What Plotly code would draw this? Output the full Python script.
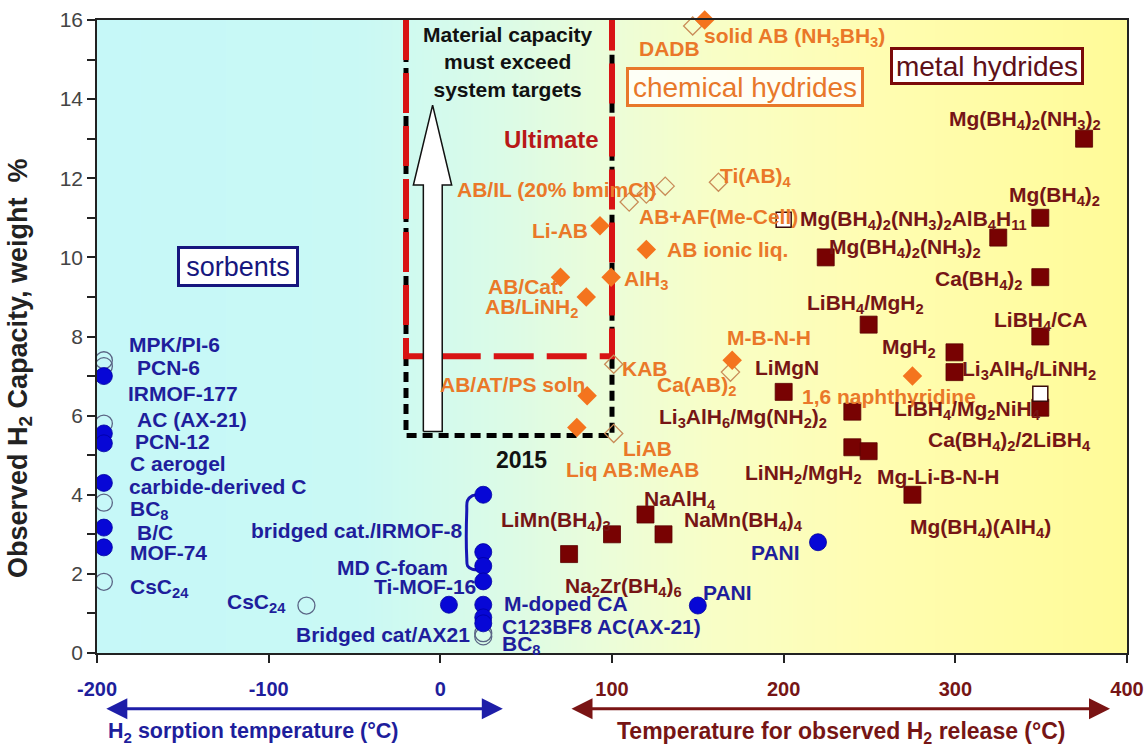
import numpy as np
import plotly.graph_objects as go

FONT = "Liberation Sans"

BLUE_MK = "#0707D6"
BLUE_TX = "#1E1E9C"
ORANGE_MK = "#F4741E"
ORANGE_TX = "#EA7829"
OPEN_CH = "#C98C58"
MAROON_MK = "#780202"
MAROON_TX = "#761515"

# ---------------- sorbents: sorption temperature (°C) vs capacity (wt %) ----------------
sorb_t = [-196, -196, -196, -196, -196, -196, 25, 25, 25, 25, 25, 25, 25, 5, 150, 220]
sorb_wt = [7.0, 5.55, 5.3, 4.3, 3.17, 2.67, 4.0, 2.55, 2.2, 1.81, 1.22, 0.9, 0.75, 1.22, 1.2, 2.8]
sorb_open_t = [-196, -196, -196, -196, -196, -78, 25, 25]
sorb_open_wt = [7.4, 7.25, 5.8, 3.8, 1.8, 1.2, 0.5, 0.42]

# ---------------- chemical hydrides: release temperature vs capacity ----------------
chem_t = [154, 93, 120, 99.5, 70, 85, 85.5, 79.5, 170, 275]
chem_wt = [16.0, 10.8, 10.2, 9.5, 9.5, 9.0, 6.5, 5.7, 7.4, 7.0]
chem_open_t = [147, 110, 120, 131, 162, 101, 169, 101]
chem_open_wt = [15.85, 11.4, 11.6, 11.8, 11.9, 7.3, 7.1, 5.55]

# ---------------- metal hydrides: release temperature vs capacity ----------------
metal_t = [375, 349.5, 325, 224.5, 349.5, 249.5, 349.5, 299.5, 299.5, 349.5,
           200, 240, 240, 249.5, 275, 119.5, 100, 130, 75]
metal_wt = [13.0, 11.0, 10.5, 10.0, 9.5, 8.3, 8.0, 7.6, 7.1, 6.2,
            6.6, 6.1, 5.2, 5.1, 4.0, 3.5, 3.0, 3.0, 2.5]
metal_open_t = [200, 349.5]
metal_open_wt = [10.95, 6.55]

# DOE targets (wt %) and the temperature window they apply to
target_2015 = 5.5
target_ultimate = 7.5
target_t_window = [-20, 100]

# Tick labels
x_ticks = [-200, -100, 0, 100, 200, 300, 400]
y_ticks = [0, 2, 4, 6, 8, 10, 12, 14, 16]

# Text labels: (text, x, y, anchor side)
sorb_labels = [
    ("MPK/PI-6", -182.5, 7.81, "left"),
    ("PCN-6", -177.9, 7.21, "left"),
    ("IRMOF-177", -183.3, 6.55, "left"),
    ("AC (AX-21)", -177.9, 5.89, "left"),
    ("PCN-12", -179.0, 5.35, "left"),
    ("C aerogel", -181.9, 4.78, "left"),
    ("carbide-derived C", -182.7, 4.21, "left"),
    ("BC<sub>8</sub>", -181.9, 3.62, "left"),
    ("B/C", -177.9, 3.05, "left"),
    ("MOF-74", -182.1, 2.54, "left"),
    ("CsC<sub>24</sub>", -182.1, 1.64, "left"),
    ("CsC<sub>24</sub>", -88.6, 1.26, "right"),
    ("bridged cat./IRMOF-8", 14.4, 3.09, "right"),
    ("MD C-foam", 5.6, 2.16, "right"),
    ("Ti-MOF-16", 21.9, 1.68, "right"),
    ("Bridged cat/AX21", 18.3, 0.46, "right"),
    ("M-doped CA", 35.7, 1.24, "left"),
    ("C123BF8 AC(AX-21)", 34.8, 0.67, "left"),
    ("BC<sub>8</sub>", 34.8, 0.21, "left"),
    ("PANI", 151.8, 1.52, "left"),
    ("PANI", 210.5, 2.53, "right"),
]

chem_labels = [
    ("DADB", 114.4, 15.29, "left"),
    ("solid AB (NH<sub>3</sub>BH<sub>3</sub>)", 152.3, 15.58, "left"),
    ("AB/IL (20% bmimCl)", 8.5, 11.71, "left"),
    ("Ti(AB)<sub>4</sub>", 161.9, 12.04, "left"),
    ("AB+AF(Me-Cell)", 114.4, 11.03, "left"),
    ("Li-AB", 87.2, 10.69, "right"),
    ("AB ionic liq.", 130.9, 10.19, "left"),
    ("AlH<sub>3</sub>", 105.6, 9.43, "left"),
    ("AB/Cat.", 26.6, 9.26, "left"),
    ("AB/LiNH<sub>2</sub>", 25.0, 8.72, "left"),
    ("M-B-N-H", 165.8, 7.98, "left"),
    ("KAB", 104.7, 7.20, "left"),
    ("Ca(AB)<sub>2</sub>", 125.0, 6.74, "left"),
    ("AB/AT/PS soln", -1.2, 6.78, "left"),
    ("1,6 naphthyridine", 209.5, 6.48, "left"),
    ("LiAB", 105.1, 5.18, "left"),
    ("Liq AB:MeAB", 72.2, 4.63, "left"),
]

metal_labels = [
    ("Mg(BH<sub>4</sub>)<sub>2</sub>(NH<sub>3</sub>)<sub>2</sub>", 295.0, 13.48, "left"),
    ("Mg(BH<sub>4</sub>)<sub>2</sub>", 329.9, 11.54, "left"),
    ("Mg(BH<sub>4</sub>)<sub>2</sub>(NH<sub>3</sub>)<sub>2</sub>AlB<sub>4</sub>H<sub>11</sub>", 208.5, 10.95, "left"),
    ("Mg(BH<sub>4</sub>)<sub>2</sub>(NH<sub>3</sub>)<sub>2</sub>", 225.1, 10.23, "left"),
    ("Ca(BH<sub>4</sub>)<sub>2</sub>", 287.2, 9.43, "left"),
    ("LiBH<sub>4</sub>/MgH<sub>2</sub>", 212.4, 8.82, "left"),
    ("LiBH<sub>4</sub>/CA", 321.1, 8.38, "left"),
    ("MgH<sub>2</sub>", 256.1, 7.72, "left"),
    ("LiMgN", 182.3, 7.22, "left"),
    ("Li<sub>3</sub>AlH<sub>6</sub>/LiNH<sub>2</sub>", 302.7, 7.16, "left"),
    ("LiBH<sub>4</sub>/Mg<sub>2</sub>NiH<sub>4</sub>", 262.9, 6.15, "left"),
    ("Li<sub>3</sub>AlH<sub>6</sub>/Mg(NH<sub>2</sub>)<sub>2</sub>", 126.0, 5.94, "left"),
    ("Ca(BH<sub>4</sub>)<sub>2</sub>/2LiBH<sub>4</sub>", 282.7, 5.35, "left"),
    ("LiNH<sub>2</sub>/MgH<sub>2</sub>", 176.3, 4.52, "left"),
    ("Mg-Li-B-N-H", 253.2, 4.46, "left"),
    ("Mg(BH<sub>4</sub>)(AlH<sub>4</sub>)", 272.6, 3.16, "left"),
    ("NaAlH<sub>4</sub>", 117.2, 3.88, "left"),
    ("LiMn(BH<sub>4</sub>)<sub>3</sub>", 34.4, 3.33, "left"),
    ("NaMn(BH<sub>4</sub>)<sub>4</sub>", 140.6, 3.33, "left"),
    ("Na<sub>2</sub>Zr(BH<sub>4</sub>)<sub>6</sub>", 71.3, 1.66, "left"),
]

# Background tint: cyan on the cold side fading to yellow on the hot side
bg_stops = [[0.0, "#C6F8F8"], [0.25, "#C9F9F5"], [0.4, "#DCFBE6"], [0.5, "#ECFDD8"],
            [0.6, "#F8FEC6"], [0.75, "#FFFDB2"], [1.0, "#FFFB98"]]

fig = go.Figure()

bg_x = np.linspace(-200, 400, 121)
fig.add_trace(go.Heatmap(
    x=bg_x, y=[0, 16], z=[bg_x, bg_x], colorscale=bg_stops, zsmooth="best",
    showscale=False, hoverinfo="skip", zmin=-200, zmax=400))

# 2015 target window (black) and ultimate target (red)
tx0, tx1 = target_t_window
fig.add_trace(go.Scatter(
    x=[tx0, tx0, tx1, tx1], y=[16, target_2015, target_2015, 16], mode="lines",
    line=dict(color="black", width=5, dash="10px,6px"), hoverinfo="skip", showlegend=False))
fig.add_trace(go.Scatter(
    x=[tx0, tx0, tx1, tx1], y=[16, target_ultimate, target_ultimate, 16], mode="lines",
    line=dict(color="#D81414", width=6, dash="40px,13px"), hoverinfo="skip", showlegend=False))

# White upward arrow inside the target window
arrow_x = [-9.9, 1.1, 1.1, 6.6, -4.5, -15.7, -9.9, -9.9]
arrow_y = [5.6, 5.6, 11.83, 11.83, 13.85, 11.83, 11.83, 5.6]
fig.add_trace(go.Scatter(
    x=arrow_x, y=arrow_y, mode="lines", fill="toself", fillcolor="white",
    line=dict(color="#111111", width=1.5), hoverinfo="skip", showlegend=False))

# Bracket grouping the room-temperature sorbents
bracket_x = [23, 18.5, 15.8, 15.4, 15.4, 15.9, 18.5, 23]
bracket_y = [4.0, 3.97, 3.85, 3.6, 2.4, 2.2, 2.12, 2.1]
fig.add_trace(go.Scatter(
    x=bracket_x, y=bracket_y, mode="lines", line=dict(color="#1717B4", width=3, shape="spline"),
    hoverinfo="skip", showlegend=False))

# Markers
fig.add_trace(go.Scatter(
    x=sorb_open_t, y=sorb_open_wt, mode="markers", showlegend=False,
    marker=dict(symbol="circle-open", size=17, color="#5A6585", line=dict(width=1.3))))
fig.add_trace(go.Scatter(
    x=sorb_t, y=sorb_wt, mode="markers", showlegend=False,
    marker=dict(symbol="circle", size=17, color=BLUE_MK, line=dict(width=0.8, color="#0000A0"))))
fig.add_trace(go.Scatter(
    x=chem_open_t, y=chem_open_wt, mode="markers", showlegend=False, cliponaxis=False,
    marker=dict(symbol="diamond-open", size=14, color=OPEN_CH, line=dict(width=1.3))))
fig.add_trace(go.Scatter(
    x=chem_t, y=chem_wt, mode="markers", showlegend=False, cliponaxis=False,
    marker=dict(symbol="diamond", size=15, color=ORANGE_MK, line=dict(width=0))))
fig.add_trace(go.Scatter(
    x=metal_t, y=metal_wt, mode="markers", showlegend=False,
    marker=dict(symbol="square", size=17, color=MAROON_MK, line=dict(width=0.8, color="#5A0000"))))
fig.add_trace(go.Scatter(
    x=metal_open_t, y=metal_open_wt, mode="markers", showlegend=False,
    marker=dict(symbol="square", size=15, color="white", line=dict(width=1.5, color="#3A0A0A"))))


def add_labels(items, color):
    for text, x, y, side in items:
        fig.add_annotation(
            x=x, y=y, text=f"<b>{text}</b>", showarrow=False, xanchor=side, yanchor="middle",
            font=dict(family=FONT, size=21, color=color))


add_labels(sorb_labels, BLUE_TX)
add_labels(chem_labels, ORANGE_TX)
add_labels(metal_labels, MAROON_TX)

# Target annotations
fig.add_annotation(x=39.6, y=14.94, text="<b>Material capacity<br>must exceed<br>system targets</b>",
                   showarrow=False, xanchor="center", yanchor="middle",
                   font=dict(family=FONT, size=21, color="#111111"))
fig.add_annotation(x=64.9, y=12.97, text="<b>Ultimate</b>", showarrow=False,
                   xanchor="center", yanchor="middle",
                   font=dict(family=FONT, size=24, color="#B81818"))
fig.add_annotation(x=47.5, y=4.88, text="<b>2015</b>", showarrow=False,
                   xanchor="center", yanchor="middle",
                   font=dict(family=FONT, size=23, color="#111111"))

# Category boxes
fig.add_annotation(x=-117.7, y=9.78, text="sorbents", showarrow=False, width=114, height=33,
                   xanchor="center", yanchor="middle",
                   font=dict(family=FONT, size=27, color="#16167E"),
                   bordercolor="#16167E", borderwidth=3, borderpad=1, bgcolor="white")
fig.add_annotation(x=177.5, y=14.31, text="chemical hydrides", showarrow=False, width=230, height=32,
                   xanchor="center", yanchor="middle",
                   font=dict(family=FONT, size=28, color="#E8782A"),
                   bordercolor="#E8782A", borderwidth=3, borderpad=1, bgcolor="rgba(255,255,250,0.9)")
fig.add_annotation(x=318.7, y=14.84, text="metal hydrides", showarrow=False, width=186, height=30,
                   xanchor="center", yanchor="middle",
                   font=dict(family=FONT, size=28, color="#5E1018"),
                   bordercolor="#7A0A0A", borderwidth=3, borderpad=1, bgcolor="white")

# Axis arrows and titles below the plot
fig.add_annotation(xref="paper", yref="paper", x=0.394, y=-0.088, ax=-398, ay=0,
                   text="", showarrow=True, arrowhead=2, arrowside="end+start",
                   arrowsize=1.4, arrowwidth=3, arrowcolor="#1E1EA8")
fig.add_annotation(xref="paper", yref="paper", x=0.9835, y=-0.088, ax=-540, ay=0,
                   text="", showarrow=True, arrowhead=2, arrowside="end+start",
                   arrowsize=1.4, arrowwidth=3, arrowcolor="#7A1414")
fig.add_annotation(xref="paper", yref="paper", x=0.1515, y=-0.126, showarrow=False,
                   xanchor="center", yanchor="middle",
                   text="<b>H<sub>2</sub> sorption temperature (°C)</b>",
                   font=dict(family=FONT, size=21.5, color=BLUE_TX))
fig.add_annotation(xref="paper", yref="paper", x=0.7233, y=-0.126, showarrow=False,
                   xanchor="center", yanchor="middle",
                   text="<b>Temperature for observed H<sub>2</sub> release (°C)</b>",
                   font=dict(family=FONT, size=23, color=MAROON_TX))
fig.add_annotation(xref="paper", yref="paper", x=-0.0748, y=0.45, showarrow=False, textangle=-90,
                   xanchor="center", yanchor="middle",
                   text="<b>Observed H<sub>2</sub> Capacity, weight  %</b>",
                   font=dict(family=FONT, size=27, color="#222222"))

x_ticktext = [
    f'<b><span style="color:{BLUE_TX if v <= 0 else MAROON_TX}">{v}</span></b>' for v in x_ticks
]

fig.update_layout(
    width=1144, height=747,
    margin=dict(l=97, r=17, t=20, b=94),
    paper_bgcolor="white", plot_bgcolor="white",
    showlegend=False,
    xaxis=dict(range=[-200, 400], tickvals=x_ticks, ticktext=x_ticktext, automargin=False,
               showgrid=False, zeroline=False, showline=True, mirror=True,
               linecolor="#222222", linewidth=1.5, ticks="outside", ticklen=8,
               tickcolor="#222222", tickwidth=1.5, ticklabelstandoff=9,
               tickfont=dict(family=FONT, size=20)),
    yaxis=dict(range=[0, 16], tickvals=y_ticks, showgrid=False, zeroline=False, automargin=False,
               showline=True, mirror=True, linecolor="#222222", linewidth=1.5,
               ticks="outside", ticklen=8, tickcolor="#222222", tickwidth=1.5,
               minor=dict(dtick=1, ticks="outside", ticklen=8, tickcolor="#222222", tickwidth=1.5),
               tickfont=dict(family=FONT, size=21, color="#444444")),
)

fig.write_html("out.html")
